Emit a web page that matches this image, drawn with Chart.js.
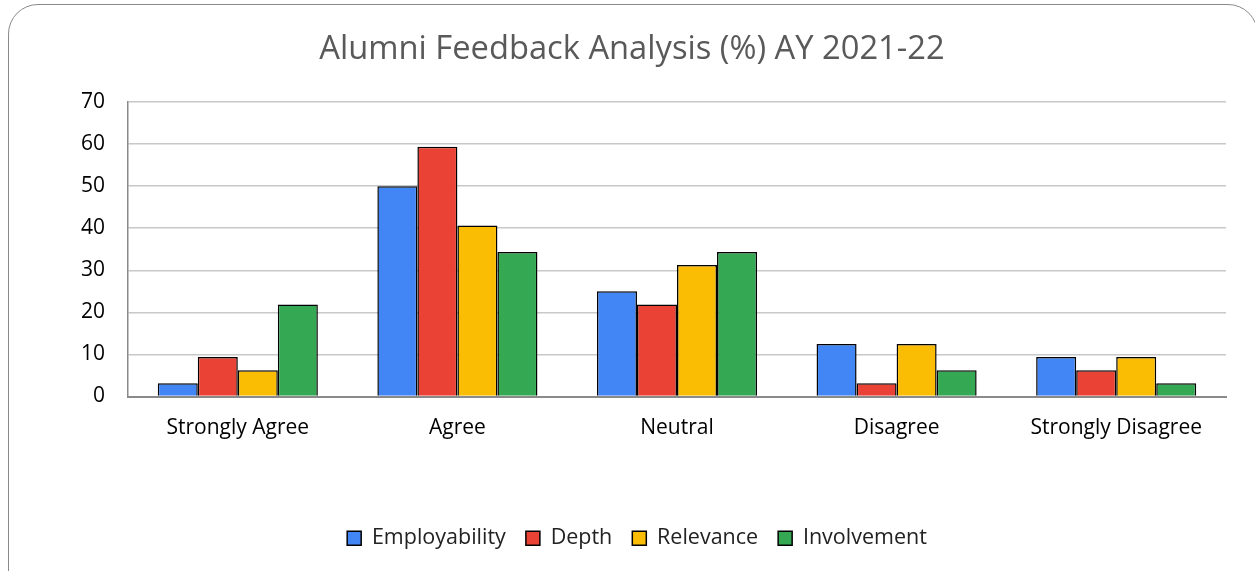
<!DOCTYPE html>
<html>
<head>
<meta charset="utf-8">
<script src="https://cdn.jsdelivr.net/npm/chart.js@4/dist/chart.umd.min.js"></script>
<style>
  html, body { margin: 0; padding: 0; background: #fff; overflow: hidden; }
  #wrap { position: relative; width: 1255px; height: 571px; }
  #frame { position: absolute; left: 8px; top: 4px; width: 1250px; height: 600px; border: 1.5px solid #8a8a8a; border-radius: 30px; box-sizing: border-box; }
  canvas { position: absolute; left: 0; top: 0; }
</style>
</head>
<body>
<div id="wrap">
  <div id="frame"></div>
  <canvas id="c" width="1255" height="571"></canvas>
</div>
<script>
const categories = ["Strongly Agree", "Agree", "Neutral", "Disagree", "Strongly Disagree"];
const employability = [3.125, 50, 25, 12.5, 9.375];
const depth = [9.375, 59.375, 21.875, 3.125, 6.25];
const relevance = [6.25, 40.625, 31.25, 12.5, 9.375];
const involvement = [21.875, 34.375, 34.375, 6.25, 3.125];
const seriesNames = ["Employability", "Depth", "Relevance", "Involvement"];
const colors = ["#4285F4", "#EA4335", "#FBBC04", "#34A853"];
const yTicks = [0, 10, 20, 30, 40, 50, 60, 70];

const FONT = "'Open Sans', 'Noto Sans', sans-serif";
const values = [employability, depth, relevance, involvement];

// shift title and legend so they are centred on the whole frame rather than the plot
const centreShift = {
  id: 'centreShift',
  afterLayout(chart) {
    if (chart.titleBlock) { chart.titleBlock.left += 30; chart.titleBlock.right += 0; }
    if (chart.legend) { chart.legend.left += 40; }
  }
};

new Chart(document.getElementById('c'), {
  type: 'bar',
  data: {
    labels: categories,
    datasets: seriesNames.map((n, i) => ({
      label: n,
      data: values[i],
      backgroundColor: colors[i],
      borderColor: '#000',
      borderWidth: 1.5,
      categoryPercentage: 0.729,
      barPercentage: 1.0
    }))
  },
  plugins: [centreShift],
  options: {
    responsive: false,
    animation: false,
    devicePixelRatio: 1,
    layout: { padding: { left: 8, right: 29, top: 10, bottom: 12 } },
    plugins: {
      title: {
        display: true,
        text: 'Alumni Feedback Analysis (%) AY 2021-22',
        color: '#595959',
        font: { family: FONT, size: 32.7, weight: 'normal' },
        padding: { top: 20, bottom: 32.8 }
      },
      legend: {
        position: 'bottom',
        labels: {
          color: '#222',
          font: { family: FONT, size: 21.5 },
          boxWidth: 14,
          boxHeight: 14,
          padding: 20,
          generateLabels: (chart) => chart.data.datasets.map((d, i) => ({
            text: d.label, fillStyle: d.backgroundColor, strokeStyle: '#000', lineWidth: 1.5, datasetIndex: i, fontColor: '#222'
          }))
        }
      },
      tooltip: { enabled: false }
    },
    scales: {
      x: {
        grid: { display: false, drawTicks: false },
        border: { display: true, color: '#8a8a8a', width: 2 },
        ticks: { color: '#000', font: { family: FONT, size: 21 }, padding: 19 },
        afterFit: (s) => { s.height = 111; }
      },
      y: {
        min: 0, max: 70,
        afterBuildTicks: (s) => { s.ticks = yTicks.map(v => ({ value: v })); },
        grid: { color: '#c8c8c8', lineWidth: 1.5, drawTicks: false },
        border: { display: true, color: '#8a8a8a', width: 1.5 },
        ticks: { color: '#000', font: { family: FONT, size: 21 }, padding: 23 },
        afterFit: (s) => { s.width = 120; }
      }
    }
  }
});
</script>
</body>
</html>
